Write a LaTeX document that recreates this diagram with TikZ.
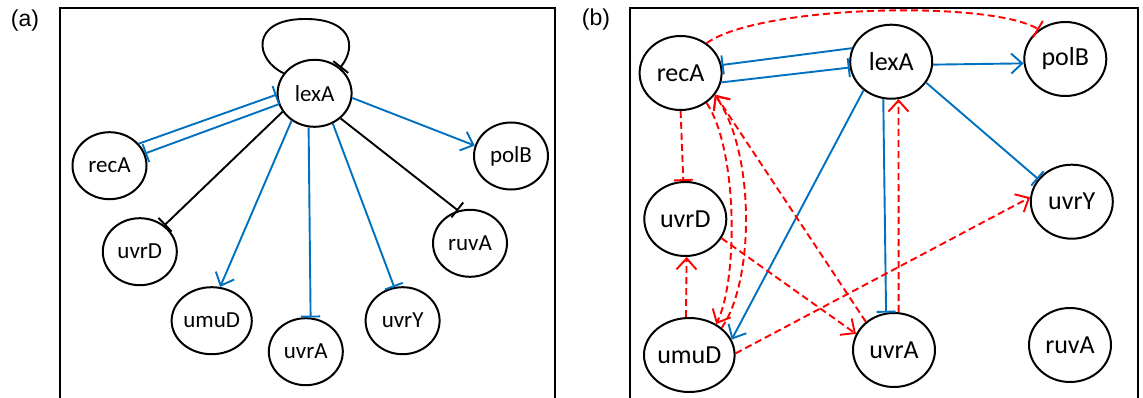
\documentclass[tikz,border=0pt]{standalone}
\usepackage{fontspec}
\setmainfont{Carlito}
\newfontfamily\labfont{Liberation Sans}
\usetikzlibrary{arrows.meta,shapes.geometric}
\definecolor{myblue}{RGB}{0,112,192}
\definecolor{myred}{RGB}{255,0,0}
\begin{document}
\begin{tikzpicture}[x=1pt,y=-1pt,
  gnA/.style={ellipse, draw=black, line width=2pt, minimum width=74pt, minimum height=67pt, inner sep=0pt, font=\fontsize{23}{26}\selectfont},
  gnB/.style={ellipse, draw=black, line width=2pt, minimum width=82pt, minimum height=74pt, inner sep=0pt, font=\fontsize{26}{30}\selectfont},
  bl/.style={draw=myblue, line width=1.9pt},
  bk/.style={draw=black, line width=1.9pt},
  rd/.style={draw=myred, line width=1.9pt, dash pattern=on 7pt off 4pt},
  act/.style={-{Straight Barb[length=11pt,width=20pt,line width=1.9pt]}},
  inh/.style={-{Bar[width=19pt,line width=1.9pt]}},
  frame/.style={draw=black, line width=2pt},
  plab/.style={font=\labfont\fontsize{23}{26}\selectfont}
]
\useasboundingbox (0,0) rectangle (1143,398);
% frames
\draw[frame] (60,398) -- (60,8) -- (555,8) -- (555,398);
\draw[frame] (630,398) -- (630,8) -- (1138,8) -- (1138,398);
\node[plab] (la) at (25,21) {(a)};
\node[plab] (lb) at (596,20) {(b)};
% panel a nodes
\node[gnA] (a-lexA) at (314.6,93.3) {lexA};
\node[gnA] (a-recA) at (109.5,165.7) {recA};
\node[gnA] (a-polB) at (511,156) {polB};
\node[gnA] (a-uvrD) at (139.8,251.7) {uvrD};
\node[gnA] (a-umuD) at (211.7,320.7) {umuD};
\node[gnA] (a-uvrA) at (305.8,351.7) {uvrA};
\node[gnA] (a-uvrY) at (402.6,320.7) {uvrY};
\node[gnA] (a-ruvA) at (470,243.3) {ruvA};
% panel a edges
\draw[bk, inh] (a-lexA.147) .. controls (255,60) and (250,20) .. (303,19) .. controls (350,18) and (358,45) .. (a-lexA.45);
\draw[bl, inh] (a-recA.37) -- (a-lexA.182);
\draw[bl, inh] (a-lexA.197) -- (a-recA.19);
\draw[bl, act] (a-lexA.-7) -- (a-polB.164);
\draw[bk, inh] (a-lexA.210) -- (a-uvrD.47);
\draw[bl, act] (a-lexA.230) -- (a-umuD.76);
\draw[bl, inh] (a-lexA.260) -- (a-uvrA.82);
\draw[bl, inh] (a-lexA.-59) -- (a-uvrY.104);
\draw[bk, inh] (a-lexA.-44) -- (a-ruvA.110);
% panel b nodes
\node[gnB] (b-recA) at (680.6,73) {recA};
\node[gnB] (b-lexA) at (891.2,61.7) {lexA};
\node[gnB] (b-polB) at (1065.3,59) {polB};
\node[gnB] (b-uvrD) at (685.3,219) {uvrD};
\node[gnB] (b-uvrY) at (1071.8,201.7) {uvrY};
\node[gnB] (b-umuD) at (689.3,355) {umuD};
\node[gnB] (b-uvrA) at (894,350) {uvrA};
\node[gnB] (b-ruvA) at (1070,345) {ruvA};
% panel b edges
\draw[bl, inh] (b-lexA.161) -- (b-recA.11);
\draw[bl, inh] (b-recA.-13) -- (b-lexA.188);
\draw[bl, act] (b-lexA.-4) -- (b-polB.186);
\draw[bl, inh] (b-lexA.-31) -- (b-uvrY.146);
\draw[bl, act] (b-lexA.226) -- (b-umuD.20);
\draw[bl, inh] (b-lexA.-102) -- (b-uvrA.102);
\draw[rd, act] (b-uvrA.83) -- (b-lexA.-79);
\draw[rd, inh] (b-recA.49) .. controls (760,5) and (990,0) .. (b-polB.132);
\draw[rd, inh] (b-recA.-90) -- (b-uvrD.93);
\draw[rd, act] (b-umuD.95) -- (b-uvrD.-88);
\draw[rd, act] (b-uvrA.135) -- (b-recA.-32);
\draw[rd, act] (b-umuD.40) .. controls (755,280) and (755,150) .. (b-recA.-33);
\draw[rd, act] (b-recA.-49) .. controls (738,150) and (738,280) .. (b-umuD.49);
\draw[rd, act] (b-uvrD.-28) -- (b-uvrA.157);
\draw[rd, act] (b-umuD.2) -- (b-uvrY.174);
\end{tikzpicture}
\end{document}
